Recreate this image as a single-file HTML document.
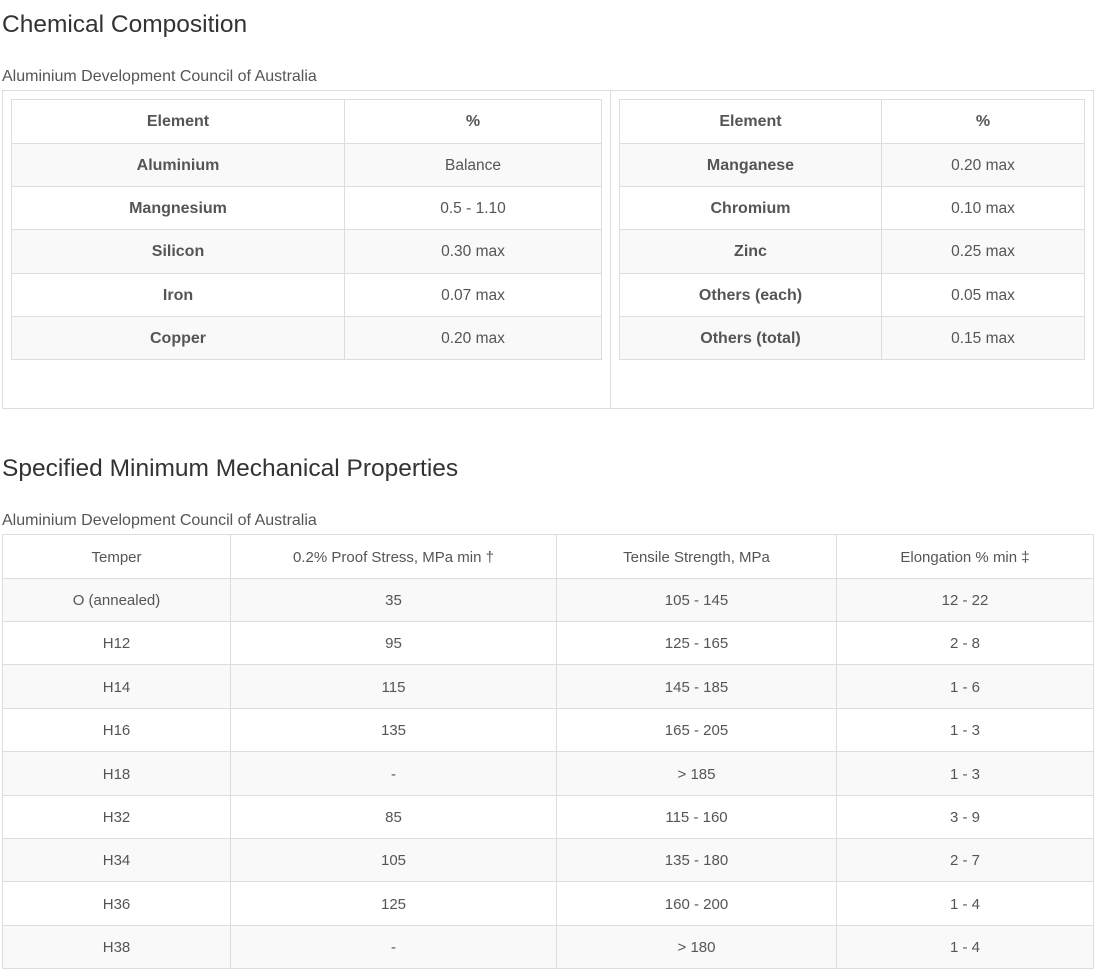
<!DOCTYPE html>
<html>
<head>
<meta charset="utf-8">
<style>
  html, body { margin:0; padding:0; background:#fff; }
  body { width:1097px; height:973px; position:relative; overflow:hidden;
         font-family:"Liberation Sans", Arial, sans-serif; color:#555; }
  .h2 { position:absolute; left:2px; font-size:24.5px; color:#333; white-space:nowrap; line-height:normal; margin:0; font-weight:normal; }
  .sub { position:absolute; left:2px; font-size:16px; color:#555; white-space:nowrap; line-height:normal; }
  .grid { position:absolute; display:grid; background:#ddd; padding:1px; gap:1px; box-sizing:border-box; }
  .grid > div { display:flex; align-items:center; justify-content:center; background:#fff; white-space:nowrap; padding-top:1px; box-sizing:border-box; }
  .g { background:#f9f9f9 !important; }
  .b { font-weight:bold; font-size:16px; }
  .n { font-size:15.5px; }
  .m { font-size:15px; }
  .outer { position:absolute; left:2px; top:90px; width:1092px; height:319px; border:1px solid #ddd; box-sizing:border-box; }
  .divider { position:absolute; left:610px; top:90px; width:1px; height:319px; background:#ddd; }
</style>
</head>
<body>
  <div class="h2" style="top:11px;">Chemical Composition</div>
  <div class="sub" style="top:68px;">Aluminium Development Council of Australia</div>

  <div class="outer"></div>
  <div class="divider"></div>

  <div class="grid" style="left:11px; top:99px; width:591px; height:261px; grid-template-columns:332px 256px; grid-template-rows:43px 42px 42px 43px 42px 42px;">
    <div class="b">Element</div><div class="b">%</div>
    <div class="b g">Aluminium</div><div class="n g">Balance</div>
    <div class="b">Mangnesium</div><div class="n">0.5 - 1.10</div>
    <div class="b g">Silicon</div><div class="n g">0.30 max</div>
    <div class="b">Iron</div><div class="n">0.07 max</div>
    <div class="b g">Copper</div><div class="n g">0.20 max</div>
  </div>

  <div class="grid" style="left:619px; top:99px; width:466px; height:261px; grid-template-columns:261px 202px; grid-template-rows:43px 42px 42px 43px 42px 42px;">
    <div class="b">Element</div><div class="b">%</div>
    <div class="b g">Manganese</div><div class="n g">0.20 max</div>
    <div class="b">Chromium</div><div class="n">0.10 max</div>
    <div class="b g">Zinc</div><div class="n g">0.25 max</div>
    <div class="b">Others (each)</div><div class="n">0.05 max</div>
    <div class="b g">Others (total)</div><div class="n g">0.15 max</div>
  </div>

  <div class="h2" style="top:455px;">Specified Minimum Mechanical Properties</div>
  <div class="sub" style="top:512px;">Aluminium Development Council of Australia</div>

  <div class="grid" style="left:2px; top:534px; width:1092px; height:435px; grid-template-columns:227px 325px 279px 256px; grid-template-rows:43px 42px 42px 43px 42px 43px 42px 42px 43px 42px;">
    <div class="m">Temper</div><div class="m">0.2% Proof Stress, MPa min&nbsp;†</div><div class="m">Tensile Strength, MPa</div><div class="m">Elongation % min&nbsp;‡</div>
    <div class="m g">O (annealed)</div><div class="m g">35</div><div class="m g">105 - 145</div><div class="m g">12 - 22</div>
    <div class="m">H12</div><div class="m">95</div><div class="m">125 - 165</div><div class="m">2 - 8</div>
    <div class="m g">H14</div><div class="m g">115</div><div class="m g">145 - 185</div><div class="m g">1 - 6</div>
    <div class="m">H16</div><div class="m">135</div><div class="m">165 - 205</div><div class="m">1 - 3</div>
    <div class="m g">H18</div><div class="m g">-</div><div class="m g">&gt; 185</div><div class="m g">1 - 3</div>
    <div class="m">H32</div><div class="m">85</div><div class="m">115 - 160</div><div class="m">3 - 9</div>
    <div class="m g">H34</div><div class="m g">105</div><div class="m g">135 - 180</div><div class="m g">2 - 7</div>
    <div class="m">H36</div><div class="m">125</div><div class="m">160 - 200</div><div class="m">1 - 4</div>
    <div class="m g">H38</div><div class="m g">-</div><div class="m g">&gt; 180</div><div class="m g">1 - 4</div>
  </div>
</body>
</html>
